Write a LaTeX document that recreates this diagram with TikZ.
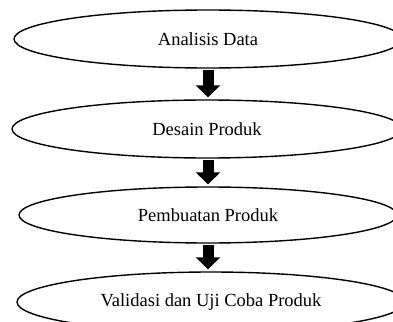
\documentclass[tikz,border=0pt]{standalone}
\usepackage{fontspec}
\setmainfont{Liberation Serif}
\usetikzlibrary{shapes.geometric,arrows.meta}
\tikzset{
  stage/.style={draw=black, line width=1.4pt, ellipse, inner sep=0pt,
    font=\fontsize{18.5}{22}\selectfont},
  blockarrow/.style={line width=11pt, draw=black,
    -{Triangle[width=24pt,length=12pt]}, shorten <=1.5pt, shorten >=2pt}
}
\begin{document}
\begin{tikzpicture}[x=1pt,y=-1pt]
\useasboundingbox (0,0) rectangle (393,321);
\clip (0,0) rectangle (393,321);
\fill[white] (0,0) rectangle (393,321);
\node[stage, minimum width=388pt, minimum height=58pt] (a) at (208,39) {Analisis Data};
\node[stage, minimum width=390pt, minimum height=58pt] (b) at (207,129) {Desain Produk};
\node[stage, minimum width=378pt, minimum height=56pt] (c) at (208,215) {Pembuatan Produk};
\node[stage, minimum width=388pt, minimum height=60pt] (d) at (211,302) {Validasi dan Uji Coba Produk};
\coordinate (ax) at (208,0);
\draw[blockarrow] (a.south -| ax) -- (b.north -| ax);
\draw[blockarrow] (b.south -| ax) -- (c.north -| ax);
\draw[blockarrow] (c.south -| ax) -- (d.north -| ax);
\end{tikzpicture}
\end{document}
